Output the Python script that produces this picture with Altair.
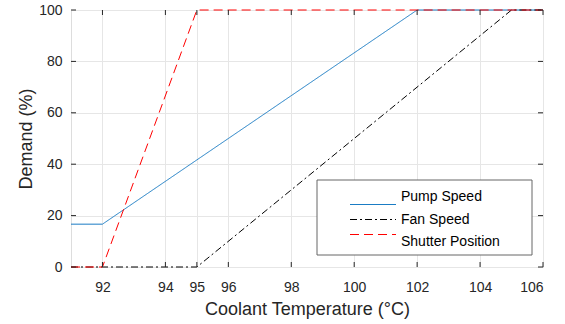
import altair as alt
import pandas as pd

# Data
series_names = ["Pump Speed", "Fan Speed", "Shutter Position"]
pump_x = [91, 92, 102, 106]
pump_y = [16.67, 16.67, 100, 100]
fan_x = [91, 95, 105, 106]
fan_y = [0, 0, 100, 100]
shutter_x = [91, 92, 95, 106]
shutter_y = [0, 0, 100, 100]
x_ticks = [92, 94, 95, 96, 98, 100, 102, 104, 106]
y_ticks = [0, 20, 40, 60, 80, 100]

W, H = 472, 257
FONT = "Liberation Sans"
AXC = "#262626"

rows = []
for name, xs, ys in [("Pump Speed", pump_x, pump_y), ("Fan Speed", fan_x, fan_y),
                     ("Shutter Position", shutter_x, shutter_y)]:
    for i, (a, b) in enumerate(zip(xs, ys)):
        rows.append({"series": name, "temp": a, "demand": b, "order": i})
df = pd.DataFrame(rows)

xscale = alt.Scale(domain=[91, 106], nice=False, zero=False)
yscale = alt.Scale(domain=[0, 100], nice=False)

color_scale = alt.Scale(domain=series_names, range=["#1a7cc4", "#000000", "#ff0000"])
dash_scale = alt.Scale(domain=series_names, range=[[1, 0], [7, 3, 2, 3], [9, 5]])

xaxis = alt.Axis(values=x_ticks, title="Coolant Temperature (°C)", grid=True, gridColor="#e6e6e6",
                 tickSize=0, domain=False, labelPadding=13, labelFontSize=14, titleFontSize=18,
                 labelFont=FONT, titleFont=FONT, labelColor=AXC, titleColor=AXC, titleFontWeight="normal",
                 titleY=47, titleBaseline="alphabetic")
yaxis = alt.Axis(values=y_ticks, title="Demand (%)", grid=True, gridColor="#e6e6e6",
                 tickSize=0, domain=False, labelPadding=9, labelFontSize=14, titleFontSize=18,
                 labelFont=FONT, titleFont=FONT, labelColor=AXC, titleColor=AXC, titleFontWeight="normal",
                 titleX=-45, titleBaseline="middle")

X = alt.X("temp:Q", scale=xscale, axis=xaxis)
Y = alt.Y("demand:Q", scale=yscale, axis=yaxis)
Yn = alt.Y("demand:Q", scale=yscale, axis=None)

base = alt.Chart(df)

def layer(name, first=False):
    return base.transform_filter(alt.datum.series == name).mark_line(strokeWidth=1).encode(
        x=X, y=Y if first else Yn,
        order="order:Q",
        color=alt.Color("series:N", scale=color_scale, legend=None),
        strokeDash=alt.StrokeDash("series:N", scale=dash_scale, legend=None),
    )

# legend (frame, sample lines, labels)
leg = pd.DataFrame({"series": series_names})
leg_y = alt.Y("series:N", scale=alt.Scale(domain=series_names, range=[187, 232], padding=0), axis=None)
frame = alt.Chart(pd.DataFrame({"k": [0]})).mark_rect(
    fill="white", stroke="#666666", strokeWidth=1
).encode(x=alt.value(246), x2=alt.value(461), y=alt.value(170), y2=alt.value(245))
leg_lines = alt.Chart(leg).mark_rule(strokeWidth=1).encode(
    x=alt.value(279), x2=alt.value(325), y=leg_y,
    color=alt.Color("series:N", scale=color_scale, legend=None),
    strokeDash=alt.StrokeDash("series:N", scale=dash_scale, legend=None),
)
leg_text = alt.Chart(leg).mark_text(align="left", baseline="middle", font=FONT, fontSize=14,
                                    color="#000000").encode(
    x=alt.value(330), y=leg_y, text="series:N")

xt = pd.DataFrame({"temp": x_ticks})
yt = pd.DataFrame({"demand": y_ticks})
tick_bottom = alt.Chart(xt).mark_rule(color=AXC, strokeWidth=1).encode(
    x=X, y=alt.value(H), y2=alt.value(H - 5))
tick_top = alt.Chart(xt).mark_rule(color=AXC, strokeWidth=1).encode(
    x=X, y=alt.value(0), y2=alt.value(5))
tick_left = alt.Chart(yt).mark_rule(color=AXC, strokeWidth=1).encode(
    y=Yn, x=alt.value(0), x2=alt.value(5))
tick_right = alt.Chart(yt).mark_rule(color=AXC, strokeWidth=1).encode(
    y=Yn, x=alt.value(W), x2=alt.value(W - 5))

chart = alt.layer(
    layer("Pump Speed", True), layer("Fan Speed"), layer("Shutter Position"),
    frame, leg_lines, leg_text,
    tick_bottom, tick_top, tick_left, tick_right,
).resolve_scale(y="independent").properties(
    width=W, height=H,
    padding={"left": 71, "top": 10, "right": 22, "bottom": 57},
    autosize=alt.AutoSizeParams(type="none"),
).configure_view(stroke=AXC, strokeWidth=1).configure(background="white")

chart.save("out.html", embed_options={"renderer": "svg", "actions": False})
